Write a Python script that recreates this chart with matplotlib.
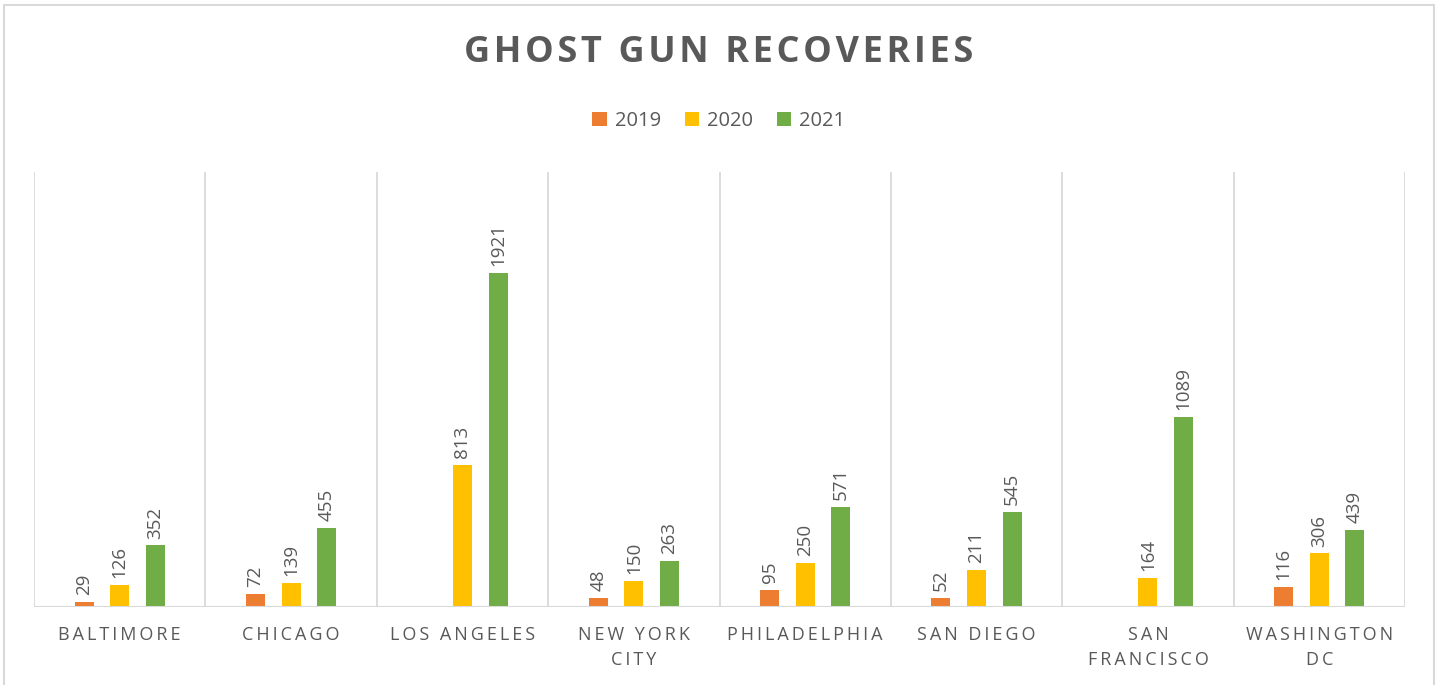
import numpy as np
import matplotlib.pyplot as plt
from matplotlib.patches import Rectangle

cities = ['BALTIMORE', 'CHICAGO', 'LOS ANGELES', 'NEW YORK\nCITY', 'PHILADELPHIA',
          'SAN DIEGO', 'SAN\nFRANCISCO', 'WASHINGTON\nDC']
years = ['2019', '2020', '2021']
v2019 = [29, 72, np.nan, 48, 95, 52, np.nan, 116]
v2020 = [126, 139, 813, 150, 250, 211, 164, 306]
v2021 = [352, 455, 1921, 263, 571, 545, 1089, 439]
colors = ['#ED7D31', '#FFC000', '#70AD47']

FAM = ['Open Sans', 'DejaVu Sans']
GREY = '#595959'


def spaced(s, sep='\u2009'):
    return '\n'.join(sep.join(line) for line in s.split('\n'))


fig = plt.figure(figsize=(14.42, 6.85), dpi=100)
ax = fig.add_axes([34 / 1442, 1 - 606.7 / 685, (1405 - 34) / 1442, (606.7 - 172) / 685])

x = np.arange(len(cities))
barwidth = 0.111
step = 0.208
series = [v2019, v2020, v2021]
for i, vals in enumerate(series):
    pos = x + (i - 1) * step
    ax.bar(pos, vals, width=barwidth, color=colors[i], label=years[i], zorder=3)
    for p, v in zip(pos, vals):
        if np.isnan(v):
            continue
        ax.annotate(str(int(v)), (p, v), xytext=(0, 5), textcoords='offset points',
                    rotation=90, ha='center', va='bottom', fontsize=13.5,
                    color=GREY, family=FAM)

ax.set_xlim(-0.5, len(cities) - 0.5)
ax.set_ylim(0, 2500)
for b in np.arange(-0.5, len(cities), 1.0):
    ax.axvline(b, color='#D9D9D9', lw=1.3, zorder=1)
for s in ax.spines.values():
    s.set_visible(False)
ax.axhline(0, color='#D9D9D9', lw=1.5, zorder=4)
ax.set_yticks([])
ax.set_xticks(x)
ax.set_xticklabels([spaced(c) for c in cities], fontsize=13, color=GREY,
                   family=FAM, linespacing=1.5)
ax.tick_params(axis='x', length=0, pad=14)

fig.text(0.4986, 1 - 53 / 685, spaced('GHOST GUN RECOVERIES', '\u200a'), ha='center',
         va='center', fontsize=26, fontweight='bold', color=GREY, family=FAM)

leg = fig.legend(loc='center', bbox_to_anchor=(0.4986, 1 - 121 / 685), ncol=3,
                 frameon=False, handlelength=0.7, handleheight=0.7,
                 handletextpad=0.4, columnspacing=1.2, prop={'family': FAM, 'size': 14.5})
for t in leg.get_texts():
    t.set_color(GREY)

fig.patches.append(Rectangle((4 / 1442, -0.05), (1434 - 4) / 1442, 1.05 - 5 / 685,
                             transform=fig.transFigure, fill=False,
                             edgecolor='#D9D9D9', lw=1.5))

fig.savefig('out.png', dpi=100)
